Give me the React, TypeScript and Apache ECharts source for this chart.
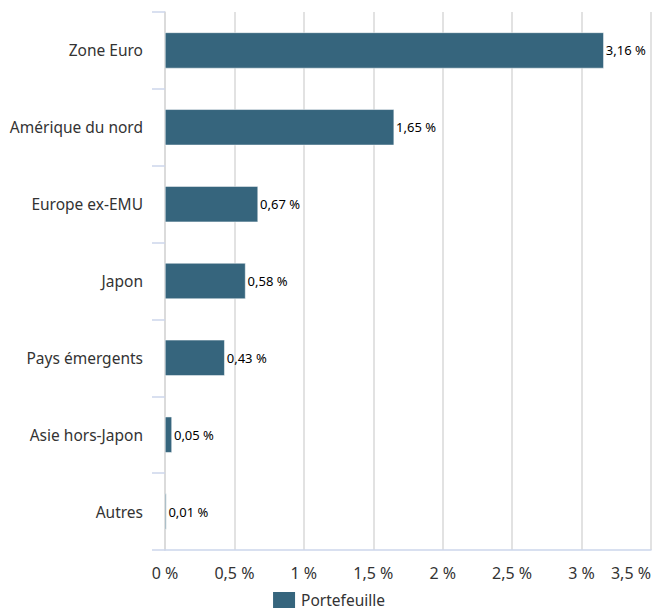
import React, { useEffect, useRef } from "react";
import * as echarts from "echarts";

const categories = [
  "Zone Euro",
  "Amérique du nord",
  "Europe ex-EMU",
  "Japon",
  "Pays émergents",
  "Asie hors-Japon",
  "Autres",
];
const seriesName = "Portefeuille";
const values = [3.16, 1.65, 0.67, 0.58, 0.43, 0.05, 0.01];
const xMin = 0;
const xMax = 3.5;
const xStep = 0.5;

const fmt = (v: number, digits?: number) =>
  (digits !== undefined ? v.toFixed(digits) : String(v)).replace(".", ",") + " %";

const FONT = "Noto Sans";

export default function App() {
  const ref = useRef<HTMLDivElement>(null);
  useEffect(() => {
    document.body.style.margin = "0";
    const chart = echarts.init(ref.current!, null, { renderer: "svg" });
    chart.setOption({
      animation: false,
      textStyle: { fontFamily: FONT },
      grid: { left: 165, right: 5, top: 12, bottom: 62, containLabel: false },
      legend: {
        data: [seriesName],
        top: 590,
        left: "center",
        padding: 0,
        icon: "rect",
        itemWidth: 24,
        itemHeight: 18,
        itemGap: 8,
        textStyle: { fontSize: 15.5, lineHeight: 18, color: "#333", fontFamily: FONT },
      },
      xAxis: {
        type: "value",
        min: xMin,
        max: xMax,
        interval: xStep,
        axisLine: { show: true, lineStyle: { color: "#ccd6eb", width: 1.5 } },
        axisTick: { show: false },
        splitLine: { show: true, lineStyle: { color: "#d8d8d8", width: 1.5 } },
        axisLabel: {
          margin: 15,
          fontSize: 16,
          color: "#333",
          fontFamily: FONT,
          alignMaxLabel: "right",
          formatter: (v: number) => fmt(v),
        },
      },
      yAxis: {
        type: "category",
        inverse: true,
        data: categories,
        axisLine: { show: true, lineStyle: { color: "#d8d8d8", width: 1.5 } },
        axisTick: {
          show: true,
          length: 13,
          alignWithLabel: false,
          lineStyle: { color: "#ccd6eb", width: 1.5 },
        },
        axisLabel: {
          margin: 22,
          fontSize: 15.5,
          color: "#333",
          fontFamily: FONT,
        },
      },
      series: [
        {
          name: seriesName,
          type: "bar",
          data: values,
          barWidth: 36,
          itemStyle: { color: "#36657d", borderColor: "#ffffff", borderWidth: 0.5 },
          label: {
            show: true,
            position: "right",
            distance: 2,
            fontSize: 13,
            color: "#000",
            fontFamily: FONT,
            formatter: (p: any) => fmt(p.value, 2),
          },
        },
      ],
    });
    return () => chart.dispose();
  }, []);
  return <div ref={ref} style={{ width: 656, height: 612 }} />;
}
